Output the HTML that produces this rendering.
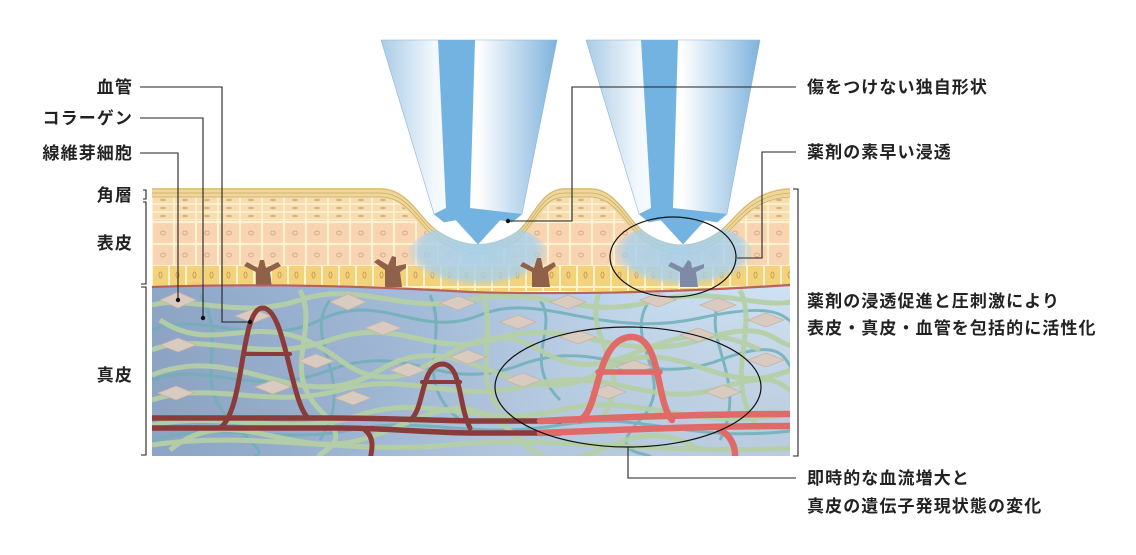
<!DOCTYPE html>
<html><head><meta charset="utf-8"><style>
html,body{margin:0;padding:0;background:#fff;}
svg{display:block}
text{font-family:"Liberation Sans","Noto Sans CJK JP",sans-serif;font-weight:bold;font-size:17px;fill:#222;letter-spacing:1.1px}
</style></head><body>
<svg width="1136" height="555" viewBox="0 0 1136 555" xmlns="http://www.w3.org/2000/svg">
<defs>
<linearGradient id="derm" x1="0" y1="0" x2="1" y2="0.3">
<stop offset="0" stop-color="#8ea6c8"/><stop offset="0.45" stop-color="#a9c2e0"/><stop offset="0.75" stop-color="#c9def3"/><stop offset="1" stop-color="#d3e6f7"/>
</linearGradient>
<linearGradient id="dermV" x1="0" y1="0" x2="0" y2="1">
<stop offset="0" stop-color="#000" stop-opacity="0"/><stop offset="1" stop-color="#3a4f78" stop-opacity="0.18"/>
</linearGradient>
<linearGradient id="ndl" x1="0" y1="0" x2="1" y2="0">
<stop offset="0" stop-color="#a9cbe6"/><stop offset="0.3" stop-color="#f2f8fc"/><stop offset="0.55" stop-color="#ffffff"/><stop offset="1" stop-color="#7fb3dd"/>
</linearGradient>
<pattern id="cells" x="152" y="200" width="22" height="22" patternUnits="userSpaceOnUse">
<rect width="22" height="22" fill="#f8d4b2"/>
<rect x="0" y="0" width="22" height="22" fill="none" stroke="#fdf3cf" stroke-width="2.2"/>
<ellipse cx="11" cy="11" rx="2.3" ry="2" fill="none" stroke="#c7a37c" stroke-width="0.8"/>
</pattern>
<pattern id="basal" x="152" y="265" width="17" height="22" patternUnits="userSpaceOnUse">
<rect width="17" height="22" fill="#f4d27a"/>
<rect width="17" height="22" fill="none" stroke="#fdf3cf" stroke-width="2"/>
<ellipse cx="8.5" cy="10" rx="1.5" ry="3" fill="none" stroke="#b89050" stroke-width="0.8"/>
</pattern>
<pattern id="gran" x="152" y="196" width="22" height="8" patternUnits="userSpaceOnUse">
<rect width="22" height="8" fill="#f6dcb0"/>
<rect width="22" height="8" fill="none" stroke="#fdf3cf" stroke-width="1.6"/>
<ellipse cx="11" cy="4" rx="3" ry="1.2" fill="#d8b47c"/>
</pattern>
<clipPath id="skin"><path d="M152,188 L380,188 C410,188 420,220 440,232 Q478,256 516,232 C534,218 540,188 565,188 L590,188 C618,188 628,222 648,234 Q683,256 718,232 C735,220 748,190 790,188 L790,456 L152,456 Z"/></clipPath>
<clipPath id="dermc"><path d="M152,287 Q300,282 470,292 Q620,296 790,285 L790,456 L152,456 Z"/></clipPath>
<radialGradient id="pen" cx="0.5" cy="0.4" r="0.5"><stop offset="0" stop-color="#a8d0ea" stop-opacity="0.95"/><stop offset="0.8" stop-color="#a8d0ea" stop-opacity="0.8"/><stop offset="1" stop-color="#a8d0ea" stop-opacity="0"/></radialGradient>
</defs>

<g clip-path="url(#skin)">
<rect x="152" y="180" width="640" height="110" fill="url(#cells)"/>
<rect x="152" y="196" width="640" height="24" fill="url(#gran)"/>
<g fill="none" stroke-linecap="butt">
<path id="surf" d="M152,191 L380,191 C410,191 420,223 440,235 Q478,259 516,235 C534,221 540,191 565,191 L590,191 C618,191 628,225 648,237 Q683,259 718,235 C735,223 748,193 790,191" stroke="#efd79a" stroke-width="12"/>
<path d="M152,189 L380,189 C410,189 420,221 440,233 Q478,257 516,233 C534,219 540,189 565,189 L590,189 C618,189 628,223 648,235 Q683,257 718,233 C735,221 748,191 790,189" stroke="#c9ad6c" stroke-width="0.8"/>
<path d="M152,193 L380,193 C410,193 420,225 440,237 Q478,261 516,237 C534,223 540,193 565,193 L590,193 C618,193 628,227 648,239 Q683,261 718,237 C735,225 748,195 790,193" stroke="#c9ad6c" stroke-width="0.8"/>
<path d="M152,197 L380,197 C410,197 420,229 440,241 Q478,265 516,241 C534,227 540,197 565,197 L590,197 C618,197 628,231 648,243 Q683,265 718,241 C735,229 748,199 790,197" stroke="#c9ad6c" stroke-width="0.8"/>
</g>
<rect x="152" y="265" width="640" height="26" fill="url(#basal)"/>
<ellipse cx="478" cy="258" rx="72" ry="36" fill="url(#pen)"/>
<ellipse cx="683" cy="258" rx="72" ry="36" fill="url(#pen)"/>
<g fill="#8f6148">
<path d="M256,287 L256,272 L244,266 L247,262 L258,268 L260,260 L264,260 L266,268 L278,262 L281,266 L270,272 L272,287Z"/>
<path d="M385,287 L385,270 L374,262 L378,259 L388,265 L392,256 L396,257 L396,266 L406,264 L406,268 L400,272 L402,287Z"/>
<path d="M532,287 L532,272 L520,266 L523,262 L534,268 L537,258 L541,258 L543,268 L554,262 L556,266 L548,272 L550,287Z"/>
<path d="M680,287 L680,272 L668,266 L671,262 L683,268 L688,260 L691,262 L692,268 L704,264 L704,268 L696,272 L698,287Z" fill="#7e8aa6"/>
</g>
<g clip-path="url(#dermc)">
<rect x="152" y="280" width="640" height="180" fill="url(#derm)"/>
<rect x="152" y="280" width="640" height="180" fill="url(#dermV)"/>
<g fill="none" stroke="#6fb0b8" stroke-width="3" opacity="0.85">
<path d="M152,330 C200,310 260,350 320,320 S420,340 480,315 S600,340 700,318 S780,330 800,320"/>
<path d="M152,380 C210,360 250,400 330,370 S440,395 520,365 S640,390 720,360 S780,375 800,370"/>
<path d="M152,440 C220,420 280,445 350,430 S470,440 560,425 S680,445 800,430"/>
<path d="M200,295 C230,340 190,380 230,420 S260,450 250,460"/>
<path d="M430,295 C450,340 410,380 460,420"/>
<path d="M650,300 C620,340 680,380 640,420 S660,450 650,460"/>
<path d="M540,300 C560,330 520,360 560,400"/>
<path d="M330,300 C300,340 360,380 320,440"/>
<path d="M720,300 C700,340 750,380 720,440"/>
</g>
<g fill="none" stroke="#b5d0a4" stroke-width="5" opacity="0.92">
<path d="M152,305 C190,295 240,320 300,300 S400,315 470,300 S580,320 650,302 S760,312 800,300"/>
<path d="M152,350 C200,330 260,365 330,340 S430,360 500,338 S620,365 700,340 S770,350 800,345"/>
<path d="M152,400 C210,380 270,410 340,390 S450,405 530,385 S650,410 720,388 S780,395 800,392"/>
<path d="M152,425 C220,410 290,438 360,415 S480,430 560,410 S690,435 800,412"/>
<path d="M160,320 C220,360 260,300 340,360 S460,300 540,350 S660,300 760,350"/>
<path d="M152,375 C240,340 300,420 380,370 S520,420 600,372 S720,410 800,365"/>
<path d="M170,450 C230,400 290,460 360,440 S460,380 520,440 S620,400 700,450"/>
<path d="M152,445 C250,430 350,455 450,445 S650,455 800,448"/>
<path d="M300,290 C320,330 280,370 320,410 S310,450 320,460"/>
<path d="M600,290 C580,340 640,370 600,420"/>
<path d="M740,290 C760,330 720,380 760,430"/>
<path d="M480,290 C500,330 470,370 500,410"/>
</g>
<g fill="#d9cbc0" stroke="#c5b2a6" stroke-width="0.8">
<path d="M160,300 l18,-8 l18,8 l-18,8z"/><path d="M235,316 l18,-7 l18,7 l-18,7z"/><path d="M160,345 l18,-7 l18,7 l-18,7z"/>
<path d="M330,302 l18,-8 l18,8 l-18,8z"/><path d="M365,328 l18,-7 l18,7 l-18,7z"/><path d="M298,361 l18,-7 l18,7 l-18,7z"/>
<path d="M158,393 l18,-7 l18,7 l-18,7z"/><path d="M255,387 l18,-7 l18,7 l-18,7z"/><path d="M335,398 l18,-7 l18,7 l-18,7z"/>
<path d="M440,303 l18,-7 l18,7 l-18,7z"/><path d="M500,322 l18,-7 l18,7 l-18,7z"/><path d="M450,357 l18,-7 l18,7 l-18,7z"/>
<path d="M550,302 l18,-7 l18,7 l-18,7z"/><path d="M560,337 l18,-7 l18,7 l-18,7z"/><path d="M505,380 l18,-7 l18,7 l-18,7z"/>
<path d="M640,300 l18,-7 l18,7 l-18,7z"/><path d="M680,335 l18,-7 l18,7 l-18,7z"/><path d="M616,367 l18,-7 l18,7 l-18,7z"/>
<path d="M700,305 l18,-7 l18,7 l-18,7z"/><path d="M748,320 l18,-7 l18,7 l-18,7z"/><path d="M705,392 l18,-7 l18,7 l-18,7z"/><path d="M748,360 l18,-7 l18,7 l-18,7z"/>
<path d="M590,392 l18,-7 l18,7 l-18,7z"/><path d="M390,370 l18,-7 l18,7 l-18,7z"/>
</g>
<g fill="none" stroke-linecap="round">
<path d="M152,418 L330,418 C380,418 420,420 470,421 L560,421" stroke="#8c3b3b" stroke-width="5.5"/>
<path d="M152,428 L340,428 C380,428 420,432 470,433 L560,433" stroke="#8c3b3b" stroke-width="5.5"/>
<path d="M220,428 C245,410 240,310 262,308 C285,306 290,400 308,418" stroke="#8c3b3b" stroke-width="5"/>
<line x1="246" y1="354" x2="290" y2="354" stroke="#8c3b3b" stroke-width="4"/>
<path d="M410,420 C425,410 420,365 442,364 C462,364 458,405 470,428" stroke="#8c3b3b" stroke-width="5"/>
<line x1="422" y1="382" x2="460" y2="382" stroke="#8c3b3b" stroke-width="4"/>
<path d="M365,430 C375,438 372,450 370,460" stroke="#8c3b3b" stroke-width="5"/>
<path d="M540,421 C600,418 700,414 790,414" stroke="#e06a68" stroke-width="6.5"/>
<path d="M540,433 C620,430 700,426 790,426" stroke="#e06a68" stroke-width="6.5"/>
<path d="M580,420 C600,410 595,340 630,337 C662,335 655,400 672,420" stroke="#e06a68" stroke-width="6.5"/>
<line x1="598" y1="372" x2="660" y2="372" stroke="#e06a68" stroke-width="5.5"/>
<path d="M720,430 C732,436 736,448 735,460" stroke="#e06a68" stroke-width="6.5"/>
</g>
</g>
<path d="M152,287 Q300,282 470,292 Q620,296 790,285" fill="none" stroke="#b96060" stroke-width="2.2"/>
</g>

<g>
<polygon points="381,40 557,40 522,214 512,222 500,220 478,244 456,220 444,222 434,214" fill="url(#ndl)" stroke="#8fb4d6" stroke-width="0.6"/>
<polygon points="438,40 475,40 470,208 522,214 512,222 500,220 478,244 456,220 444,222 434,214 446,208" fill="#72b3e1"/>
<polygon points="586,40 760,40 727,214 717,222 705,220 683,244 661,220 649,222 639,214" fill="url(#ndl)" stroke="#8fb4d6" stroke-width="0.6"/>
<polygon points="641,40 678,40 673,208 727,214 717,222 705,220 683,244 661,220 649,222 639,214 651,208" fill="#72b3e1"/>
</g>

<ellipse cx="673" cy="257" rx="63" ry="40" fill="none" stroke="#111" stroke-width="1.2"/>
<ellipse cx="628" cy="387" rx="133" ry="60" fill="none" stroke="#111" stroke-width="1.2"/>

<g fill="none" stroke="#222" stroke-width="1.1">
<polyline points="140,87 222,87 222,322 250,322"/>
<polyline points="140,118 203,118 203,318"/>
<polyline points="140,153 178,153 178,300"/>
<polyline points="796,87 572,87 572,221 508,221"/>
<polyline points="796,152 762,152 762,258 737,258"/>
<polyline points="796,478 628,478 628,447"/>
<polyline points="143,190 146,190 146,199 143,199"/>
<polyline points="143,202 146,202 146,284 141,284"/>
<polyline points="141,287 146,287 146,455 141,455"/>
<polyline points="793,189 798,189 798,456 793,456"/>
</g>
<g fill="#111">
<circle cx="250" cy="322" r="2.2"/><circle cx="203" cy="318" r="2.2"/><circle cx="178" cy="300" r="2.2"/><circle cx="508" cy="221" r="2.2"/>
</g>

<g text-anchor="end">
<text x="133" y="93">血管</text>
<text x="133" y="124">コラーゲン</text>
<text x="133" y="159">線維芽細胞</text>
<text x="133" y="201">角層</text>
<text x="133" y="249">表皮</text>
<text x="133" y="381">真皮</text>
</g>
<text x="807" y="93">傷をつけない独自形状</text>
<text x="807" y="158">薬剤の素早い浸透</text>
<text x="807" y="307">薬剤の浸透促進と圧刺激により</text>
<text x="807" y="334">表皮・真皮・血管を包括的に活性化</text>
<text x="807" y="484">即時的な血流増大と</text>
<text x="807" y="512">真皮の遺伝子発現状態の変化</text>
</svg>
</body></html>
